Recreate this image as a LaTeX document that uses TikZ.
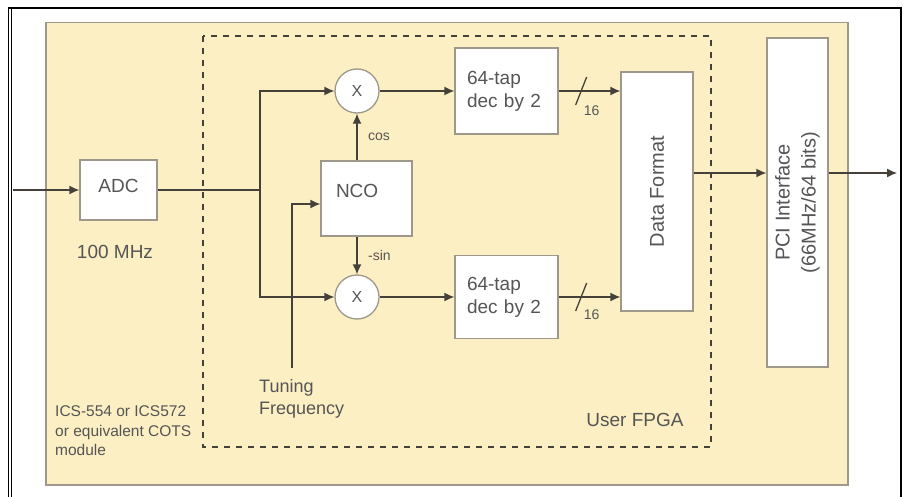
\documentclass[tikz,border=0pt]{standalone}
\usepackage{fontspec}
\setmainfont{Liberation Sans}
\usetikzlibrary{arrows.meta,calc}
\definecolor{beige}{HTML}{FCEFC3}
\definecolor{ln}{HTML}{45403A}
\definecolor{bx}{HTML}{9E988A}
\definecolor{tx}{HTML}{555555}
\begin{document}
\begin{tikzpicture}[x=1pt,y=-1pt,
  blk/.style={draw=bx, line width=1.3pt, fill=white, inner sep=0pt, text=tx,
    font=\fontsize{19}{23}\selectfont},
  mul/.style={circle, draw=bx, line width=1.3pt, fill=white, minimum size=44pt,
    inner sep=0pt, text=tx, font=\fontsize{16}{18}\selectfont},
  conn/.style={draw=ln, line width=1.3pt},
  arr/.style={conn, -{Latex[length=10pt,width=9pt]}},
  lbl/.style={text=tx, inner sep=0pt, font=\fontsize{19}{23}\selectfont},
  small/.style={text=tx, inner sep=0pt, font=\fontsize{14}{16}\selectfont},
]
\useasboundingbox (0,0) rectangle (904,497);
\fill[white] (0,0) rectangle (904,497);
% outer frame
\draw[black, line width=1.6pt] (8.5,497) -- (8.5,8) -- (901,8) -- (901,497);
\draw[black, line width=0.8pt] (11.5,497) -- (11.5,9);
% board
\draw[draw=bx, fill=beige, line width=1.2pt] (46,22.5) rectangle (848,485);
% FPGA
\draw[ln, line width=2pt, dash pattern=on 6pt off 6pt] (203,36) rectangle (711,447);

% blocks
\node[blk, minimum width=77pt, minimum height=60pt, text height=14pt, text depth=8pt] (adc) at (118.5,190) {ADC};
\node[blk, minimum width=91pt, text width=61pt, inner xsep=15pt, align=left,
      minimum height=75pt, text height=14pt, text depth=17pt] (nco) at (366.5,198.5) {NCO};
\node[mul] (m1) at (357,91) {X};
\node[mul] (m2) at (357,297) {X};
\node[blk, text width=79pt, inner xsep=12pt, align=left, minimum height=86pt] (dec1) at (506.5,91) {64-tap\\dec by 2};
\node[blk, text width=79pt, inner xsep=12pt, align=left, minimum height=83pt] (dec2) at (506.5,297) {64-tap\\dec by 2};
\node[blk, minimum width=72pt, minimum height=239pt, font=\fontsize{20}{24}\selectfont] (df) at (657,191.5) {\rotatebox{90}{Data Format}};
\node[blk, minimum width=61pt, minimum height=329pt, font=\fontsize{20}{26}\selectfont] (pci) at (797.5,202.5)
  {\rotatebox{90}{\begin{tabular}{@{}c@{}}PCI Interface\\(66MHz/64 bits)\end{tabular}}};

% texts
\node[lbl] (mhz) at (115,252) {100 MHz};
\node[lbl, anchor=west, align=left, font=\fontsize{18}{22}\selectfont] (tunlbl) at (259,399) {Tuning\\Frequency};
\node[lbl] (fpga) at (635,420) {User FPGA};
\node[lbl, anchor=west, align=left, font=\fontsize{15.5}{19.5}\selectfont] (ics) at (55,431) {ICS-554 or ICS572\\or equivalent COTS\\module};
\node[small, anchor=west] (cos) at (368,137) {cos};
\node[small, anchor=west] (sin) at (368,255) {-sin};

% connectors
\coordinate (in) at (13,190);
\coordinate (split) at (260,190);
\coordinate (tun) at (292,368);
\coordinate (out) at (897,173);
\draw[arr] (in) -- (adc);
\draw[conn] (adc) -- (split);
\draw[arr] (split) |- (m1);
\draw[arr] (split) |- (m2);
\draw[arr] (m1) -- (dec1);
\draw[arr] (m2) -- (dec2);
\draw[arr] (dec1) -- (dec1 -| df.west);
\draw[arr] (dec2) -- (dec2 -| df.west);
\draw[arr] (nco.north -| m1) -- (m1);
\draw[arr] (nco.south -| m2) -- (m2);
\draw[arr] (tun) |- ([yshift=-5.5pt]nco.west);
\draw[arr] ([yshift=18.5pt]df.east) -- ([yshift=18.5pt]df.east -| pci.west);
\draw[arr] (pci.east |- out) -- (out);
% bus width marks
\draw[conn] ($(dec1.east)+(17,14)$) -- ($(dec1.east)+(28,-14)$);
\draw[conn] ($(dec2.east)+(17,14)$) -- ($(dec2.east)+(28,-14)$);
\node[small] (w1) at ($(dec1.east)+(33,20)$) {16};
\node[small] (w2) at ($(dec2.east)+(33,18)$) {16};
\end{tikzpicture}
\end{document}
